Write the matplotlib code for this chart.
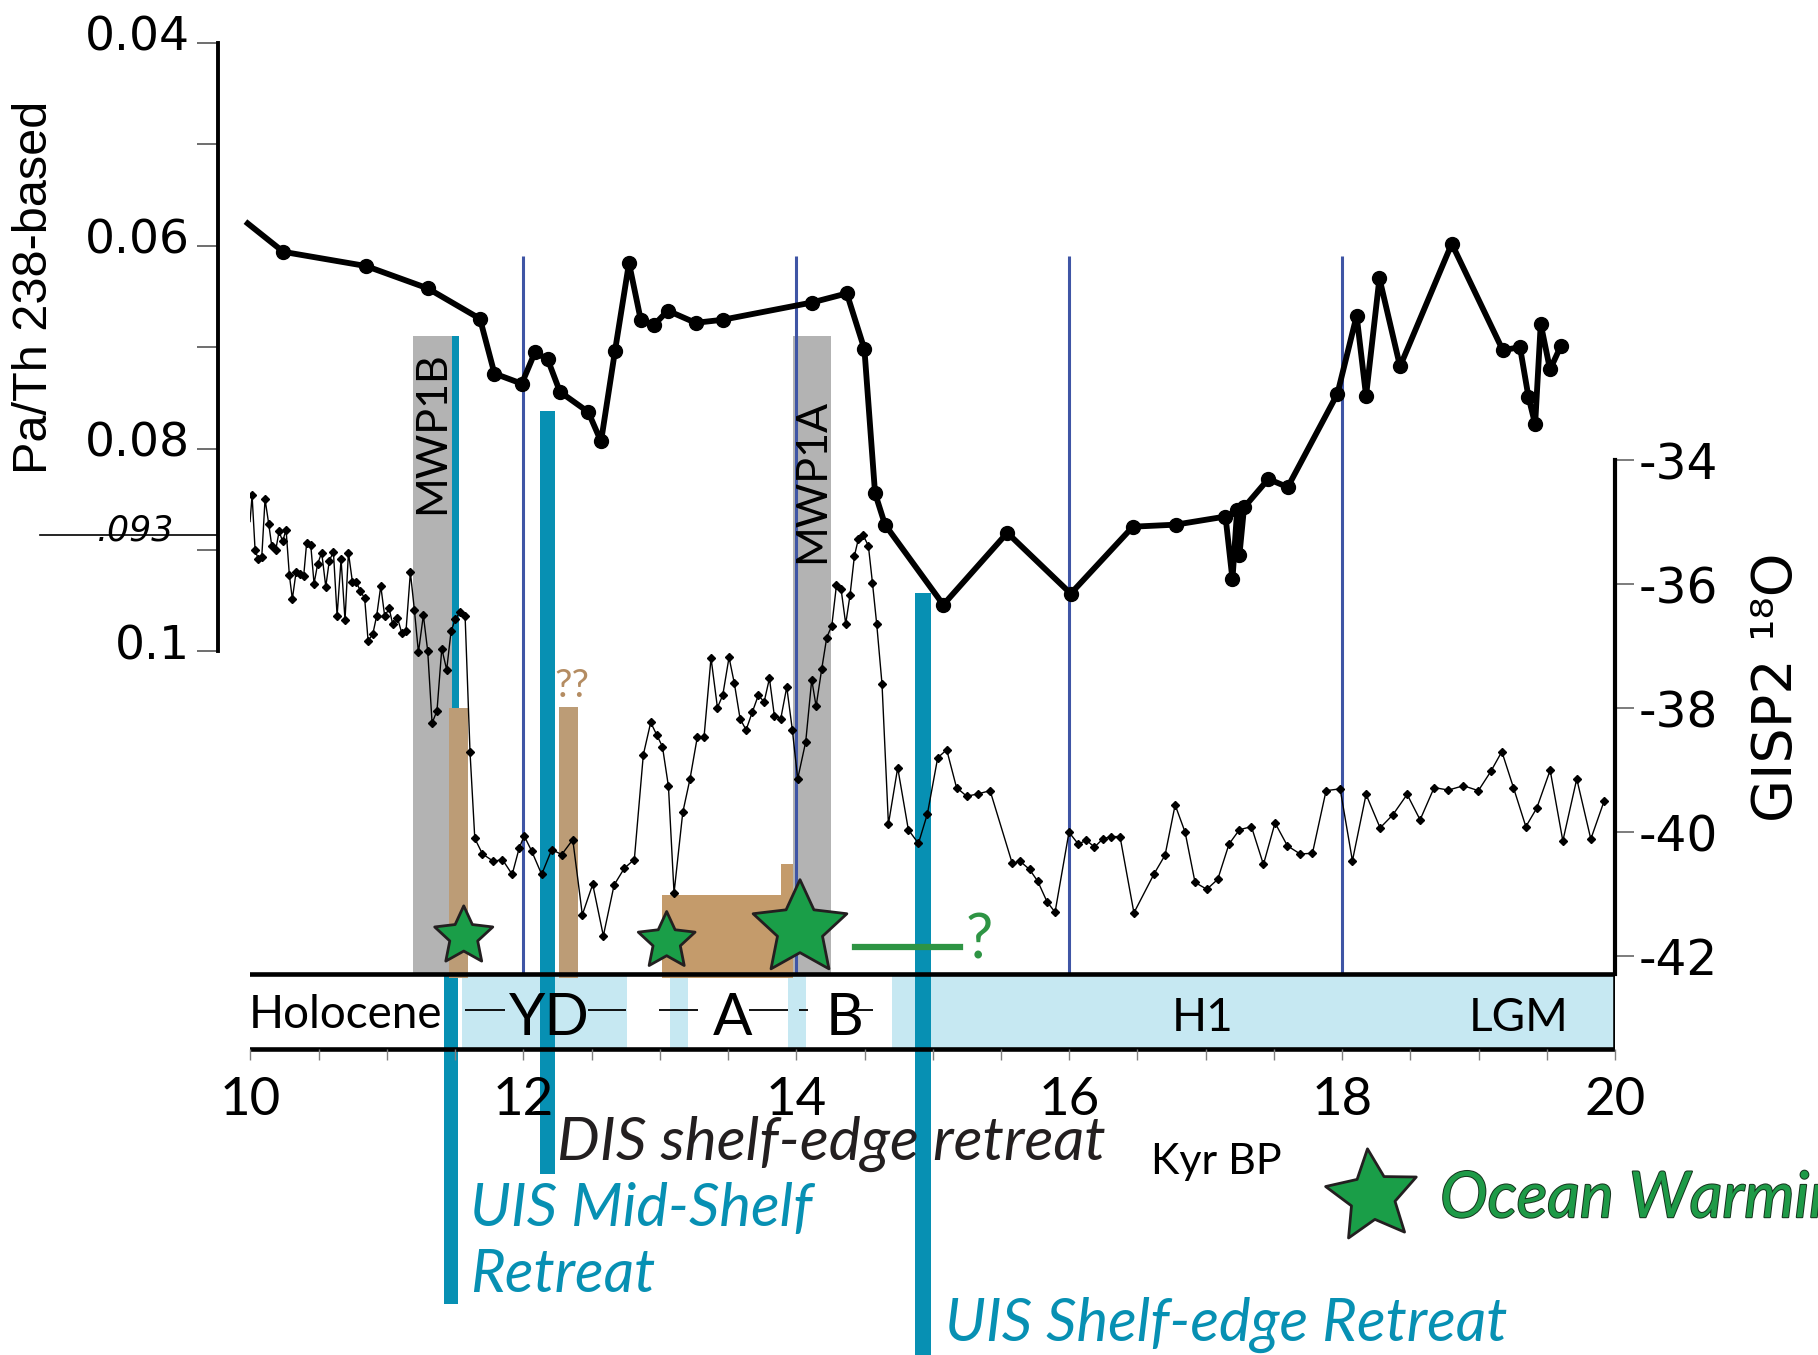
import matplotlib
matplotlib.use("Agg")
import matplotlib.pyplot as plt
import matplotlib.patheffects as pe
from matplotlib.path import Path
from matplotlib.markers import MarkerStyle
from matplotlib.transforms import Affine2D, ScaledTranslation
from matplotlib.ticker import MultipleLocator
import numpy as np

# Pa/Th (238-based) record, age in kyr BP
path_age = [9.98, 10.241, 10.847, 11.299, 11.682, 11.788, 11.988, 12.085, 12.178, 12.268,
            12.476, 12.569, 12.671, 12.774, 12.860, 12.958, 13.058, 13.262, 13.460, 14.113,
            14.370, 14.499, 14.577, 14.650, 15.077, 15.546, 16.011, 16.466, 16.780, 17.145,
            17.196, 17.230, 17.247, 17.281, 17.459, 17.601, 17.965, 18.106, 18.175, 18.273,
            18.424, 18.803, 19.177, 19.303, 19.365, 19.414, 19.455, 19.523, 19.602]
pa_th = [0.0578, 0.0606, 0.0620, 0.0642, 0.0672, 0.0726, 0.0736, 0.0705, 0.0712, 0.0744,
         0.0764, 0.0793, 0.0704, 0.0617, 0.0673, 0.0678, 0.0664, 0.0676, 0.0673, 0.0656,
         0.0647, 0.0702, 0.0844, 0.0875, 0.0954, 0.0883, 0.0943, 0.0877, 0.0875, 0.0867,
         0.0929, 0.0861, 0.0905, 0.0858, 0.0830, 0.0838, 0.0746, 0.0669, 0.0748, 0.0632,
         0.0719, 0.0598, 0.0703, 0.0700, 0.0749, 0.0776, 0.0677, 0.0722, 0.0699]

# GISP2 d18O
gisp_age = [9.997, 10.012, 10.034, 10.058, 10.083, 10.107, 10.134, 10.156, 10.185, 10.210,
            10.236, 10.261, 10.285, 10.307, 10.334, 10.363, 10.390, 10.412, 10.442, 10.466,
            10.493, 10.522, 10.552, 10.578, 10.608, 10.635, 10.664, 10.693, 10.718, 10.747,
            10.776, 10.806, 10.837, 10.862, 10.896, 10.925, 10.955, 10.984, 11.016, 11.043,
            11.077, 11.109, 11.140, 11.172, 11.201, 11.231, 11.267, 11.299, 11.331, 11.367,
            11.402, 11.438, 11.470, 11.502, 11.536, 11.573, 11.609, 11.644, 11.700, 11.781,
            11.846, 11.918, 11.970, 12.006, 12.060, 12.134, 12.208, 12.281, 12.362, 12.432,
            12.508, 12.586, 12.665, 12.740, 12.813, 12.879, 12.933, 12.977, 13.019, 13.063,
            13.104, 13.168, 13.221, 13.275, 13.324, 13.375, 13.422, 13.461, 13.507, 13.546,
            13.588, 13.632, 13.678, 13.722, 13.764, 13.803, 13.839, 13.886, 13.930, 13.971,
            14.010, 14.069, 14.113, 14.145, 14.186, 14.223, 14.260, 14.294, 14.328, 14.362,
            14.394, 14.426, 14.455, 14.487, 14.528, 14.558, 14.589, 14.628, 14.675, 14.743,
            14.821, 14.895, 14.961, 15.036, 15.102, 15.174, 15.249, 15.334, 15.420, 15.582,
            15.641, 15.709, 15.769, 15.837, 15.896, 15.998, 16.066, 16.126, 16.185, 16.245,
            16.304, 16.372, 16.474, 16.622, 16.702, 16.776, 16.849, 16.922, 17.008, 17.088,
            17.171, 17.247, 17.335, 17.423, 17.508, 17.599, 17.692, 17.782, 17.882, 17.985,
            18.075, 18.175, 18.278, 18.371, 18.476, 18.571, 18.674, 18.779, 18.889, 18.998,
            19.089, 19.170, 19.255, 19.346, 19.426, 19.524, 19.617, 19.719, 19.822, 19.919]
gisp_d18o = [-34.99, -34.57, -35.45, -35.60, -35.56, -34.63, -35.03, -35.38, -35.45, -35.15,
             -35.31, -35.12, -35.85, -36.24, -35.81, -35.83, -35.87, -35.33, -35.37, -35.99,
             -35.67, -35.49, -36.04, -35.62, -35.48, -36.51, -35.60, -36.58, -35.49, -35.96,
             -35.97, -36.11, -36.23, -36.91, -36.81, -36.51, -36.03, -36.52, -36.39, -36.65,
             -36.54, -36.79, -36.75, -35.81, -36.41, -37.10, -36.50, -37.08, -38.24, -38.04,
             -37.04, -37.38, -36.76, -36.56, -36.45, -36.52, -38.71, -40.10, -40.35, -40.47,
             -40.44, -40.68, -40.25, -40.06, -40.30, -40.68, -40.28, -40.36, -40.12, -41.33,
             -40.84, -41.67, -40.85, -40.58, -40.44, -38.75, -38.23, -38.43, -38.62, -39.26,
             -40.98, -39.68, -39.14, -38.46, -38.46, -37.19, -37.99, -37.79, -37.18, -37.60,
             -38.17, -38.35, -38.06, -37.79, -37.90, -37.52, -38.12, -38.17, -37.66, -38.35,
             -39.14, -38.54, -37.54, -37.97, -37.37, -36.86, -36.67, -36.02, -36.08, -36.64,
             -36.17, -35.54, -35.27, -35.20, -35.38, -35.98, -36.64, -37.61, -39.87, -38.96,
             -39.96, -40.18, -39.70, -38.80, -38.67, -39.28, -39.42, -39.38, -39.33, -40.50,
             -40.47, -40.60, -40.79, -41.12, -41.29, -40.00, -40.19, -40.13, -40.24, -40.11,
             -40.07, -40.07, -41.30, -40.67, -40.37, -39.56, -40.00, -40.81, -40.92, -40.76,
             -40.19, -39.96, -39.91, -40.52, -39.85, -40.22, -40.35, -40.34, -39.33, -39.30,
             -40.46, -39.39, -39.93, -39.72, -39.39, -39.80, -39.28, -39.32, -39.25, -39.33,
             -39.02, -38.70, -39.28, -39.91, -39.61, -39.00, -40.14, -39.14, -40.11, -39.50]

# meltwater pulses (kyr BP)
mwp_names = ["MWP1B", "MWP1A"]
mwp_start = [11.194, 13.979]
mwp_end = [11.475, 14.252]
mwp_label_lev = [-33.55, -34.34]

blue_lines = [12, 14, 16, 18]

# tan bars (start, end, top d18O level)
tan_start = [11.455, 12.262, 13.019, 13.888]
tan_end = [11.592, 12.399, 13.888, 13.979]
tan_top = [-37.99, -37.98, -41.01, -40.52]
tan_col = ["#BC9C76", "#BC9C76", "#C49B6B", "#C49B6B"]

# ice-sheet retreat bars (start, end, top, bottom)
teal_start = [11.478, 11.419, 12.124, 14.873]
teal_end = [11.526, 11.521, 12.234, 14.987]
teal_top = [-32.0, -42.28, -33.20, -36.15]
teal_bot = [-42.28, -47.61, -45.51, -48.6]

# ocean warming stars
star_age = [11.563, 13.05, 14.027]
star_lev = [-41.68, -41.76, -41.56]
star_size = [44, 43, 71]

# climate periods in the timeline bar
shade_start = [11.55, 13.078, 13.938, 14.70]
shade_end = [12.76, 13.203, 14.069, 20.0]
period_names = ["Holocene", "YD", "A", "B", "H1", "LGM"]
period_age = [9.99, 12.19, 13.53, 14.356, 16.975, 19.295]
period_base = [-43.16, -43.27, -43.27, -43.27, -43.21, -43.21]
period_fs = [33, 42, 42, 42, 33, 33]
dash_start = [11.575, 12.477, 12.997, 13.654, 14.02, 14.412]
dash_end = [11.863, 12.755, 13.278, 13.938, 14.085, 14.565]

LATO = ["Lato", "DejaVu Sans"]
ARIAL = ["Liberation Sans", "DejaVu Sans"]
TEAL = "#0790B3"
GREEN = "#1A9E48"

fig = plt.figure(figsize=(18.18, 13.55), dpi=100)
ax = fig.add_axes([0.13776, 0.0, 0.75064, 1.0])
ax2 = ax.twinx()
ax.set_zorder(ax2.get_zorder() + 1)
ax.patch.set_visible(False)

ax.set_xlim(10, 20)
ax.set_ylim(0.16937, 0.03577)
ax2.set_ylim(-48.43, -26.58)

# spines
for s in ["top", "right"]:
    ax.spines[s].set_visible(False)
ax.spines["bottom"].set_visible(False)
ax.spines["bottom"].set_position(("data", 0.1392))
ax.spines["left"].set_position(("data", 9.762))
ax.spines["left"].set_bounds(0.04, 0.1)
ax.spines["left"].set_linewidth(2.8)
for s in ["top", "left", "bottom"]:
    ax2.spines[s].set_visible(False)
ax2.spines["right"].set_bounds(-42.28, -34)
ax2.spines["right"].set_linewidth(3)

# x ticks
ax.set_xticks(np.arange(10, 21, 2), labels=[str(v) for v in range(10, 21, 2)],
              fontfamily=LATO, fontsize=38)
ax.xaxis.set_minor_locator(MultipleLocator(0.5))
ax.tick_params(axis="x", which="both", direction="out", length=8, width=1,
               color="#808080", pad=12)

# left axis
ax.set_yticks([0.04, 0.06, 0.08, 0.1], labels=["0.04", "0.06", "0.08", "0.1"], fontsize=34)
ax.set_yticks([0.05, 0.07, 0.09], minor=True)
ax.tick_params(axis="y", which="both", direction="out", length=15, width=1.2,
               color="#555555", pad=5)
ax.plot([8.46, 9.762], [0.0885, 0.0885], color="black", lw=1.2, clip_on=False)
ax.text(9.44, 0.0881, ".093", ha="right", va="center", fontsize=25, style="italic")

# right axis
ax2.set_yticks([-34, -36, -38, -40, -42], labels=["-34", "-36", "-38", "-40", "-42"], fontsize=35)
ax2.tick_params(axis="y", direction="out", length=14, width=1.2, color="#666666", pad=3)

fig.text(30 / 1568, 1 - 248 / 1169, "Pa/Th 238-based", rotation=90, ha="center", va="center",
         fontsize=35, family=ARIAL)
fig.text(1533 / 1568, 1 - 593 / 1169, "GISP2 \u00b9\u2078O", rotation=90, ha="center",
         va="center", fontsize=40)

# gray meltwater-pulse bands
ax2.bar(mwp_start, [-32.0 + 42.28] * 2, width=np.subtract(mwp_end, mwp_start), bottom=-42.28,
        align="edge", color="#B3B3B3", zorder=1)
for a0, a1, name, lev in zip(mwp_start, mwp_end, mwp_names, mwp_label_lev):
    ax2.text((a0 + a1) / 2, lev, name, rotation=90, ha="center", va="center",
             fontsize=31, family=LATO, zorder=4)

ax2.vlines(blue_lines, -42.28, -30.71, color="#3F55A5", lw=2.2, zorder=1.5)

# timeline bar
ax2.bar([9.966], [1.22], width=20.0 - 9.966, bottom=-43.50, align="edge", color="white", zorder=2)
ax2.bar(shade_start, [1.2] * len(shade_start), width=np.subtract(shade_end, shade_start),
        bottom=-43.48, align="edge", color="#C6E8F2", zorder=2.2)
ax2.bar([9.966], [1.22], width=20.0 - 9.966, bottom=-43.50, align="edge", fill=False,
        edgecolor="black", lw=3.3, zorder=3.5)
ax2.hlines([-42.86] * len(dash_start), dash_start, dash_end, color="black", lw=1.3, zorder=4)
for name, age, base, fs in zip(period_names, period_age, period_base, period_fs):
    ax2.text(age, base, name, ha="left" if name == "Holocene" else "center", va="baseline",
             fontsize=fs, family=LATO, zorder=4.5)

# retreat bars and tan bars
ax2.bar(teal_start, np.subtract(teal_top, teal_bot), width=np.subtract(teal_end, teal_start),
        bottom=teal_bot, align="edge", color=TEAL, zorder=2.5, clip_on=False)
ax2.bar(tan_start, np.subtract(tan_top, -42.35), width=np.subtract(tan_end, tan_start),
        bottom=-42.35, align="edge", color=tan_col, zorder=2.8)
ax2.text(12.353, -37.64, "??", ha="center", va="center", fontsize=28, color="#B48C62", family=LATO)

# GISP2 curve
ax2.plot(gisp_age, gisp_d18o, color="black", lw=1.0, marker="D", ms=4.5,
         markevery=range(1, len(gisp_age)), zorder=3)

# Pa/Th curve
ax.plot(path_age, pa_th, color="black", lw=4.2, marker="o", ms=10,
        markevery=range(1, len(path_age)), zorder=5, clip_on=False)

# stars and the green line
star = Path.unit_regular_star(5, innerCircle=0.48)
ax2.scatter(star_age, star_lev, s=np.square(star_size), marker=star, facecolor=GREEN,
            edgecolor="#231F20", lw=2, zorder=6)
ax2.plot([14.43, 15.20], [-41.85, -41.85], color="#2E9444", lw=4.5, zorder=5)
ax2.text(15.344, -41.76, "?", ha="center", va="center", fontsize=44, color="#2E9444",
         family=LATO, zorder=5)
ax2.scatter([18.216], [-45.87], s=69 ** 2,
            marker=MarkerStyle(star, transform=Affine2D().rotate_deg(6)),
            facecolor=GREEN, edgecolor="#231F20", lw=2, zorder=6, clip_on=False)

# annotations
ax2.text(12.243, -45.03, "DIS shelf-edge retreat", ha="left", va="center", fontsize=43.5,
         style="italic", color="#231F20", family=LATO, zorder=5)
ax2.text(16.60, -45.31, "Kyr BP", ha="left", va="center", fontsize=31, family=LATO)
ax2.text(11.606, -46.07, "UIS Mid-Shelf", ha="left", va="center", fontsize=43,
         style="italic", color=TEAL, family=LATO)
ax2.text(11.606, -47.14, "Retreat", ha="left", va="center", fontsize=43,
         style="italic", color=TEAL, family=LATO)
ax2.text(15.089, -47.94, "UIS Shelf-edge Retreat", ha="left", va="center", fontsize=43,
         style="italic", color=TEAL, family=LATO)
ax2.text(18.717, -45.93, "Ocean Warming", ha="left", va="center", fontsize=46,
         style="italic", color="#1E9A47", family=LATO,
         path_effects=[pe.Stroke(linewidth=1.4, foreground="#16331d"), pe.Normal()])

# left tick labels sit a little above their ticks
lift = ScaledTranslation(0, 7 / 72, fig.dpi_scale_trans)
for lbl in ax.get_yticklabels():
    lbl.set_transform(lbl.get_transform() + lift)

fig.savefig("out.png", dpi=100)
